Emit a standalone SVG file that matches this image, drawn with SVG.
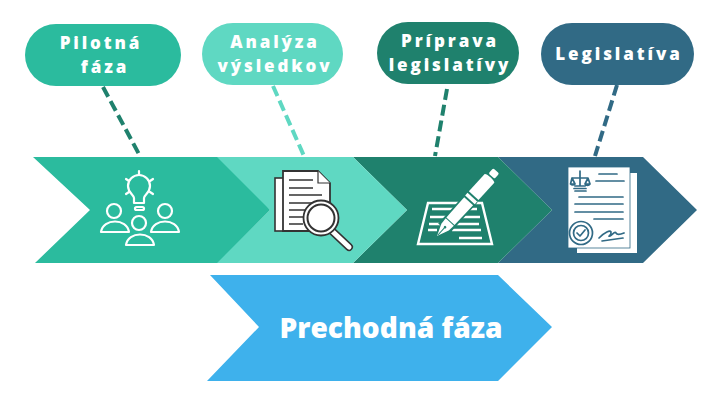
<svg xmlns="http://www.w3.org/2000/svg" width="726" height="405" viewBox="0 0 726 405">
<style>
.lbl{font-family:"Open Sans","Noto Sans",sans-serif;font-weight:800;font-size:17px;letter-spacing:2.9px;fill:#fff;text-anchor:middle}
.big{font-family:"Open Sans","Noto Sans",sans-serif;font-weight:800;font-size:28px;fill:#fff;text-anchor:middle}
.dash{fill:none;stroke-width:4;stroke-dasharray:11 5}
.w{fill:none;stroke:#fff;stroke-width:2.2;stroke-linecap:round;stroke-linejoin:round}
.k{fill:none;stroke:#333;stroke-width:1.6}
.bl{stroke:#316a85;stroke-width:1.7;fill:none;stroke-linecap:round;stroke-linejoin:round}
</style>
<rect width="726" height="405" fill="#fff"/>
<g id="connectors">
<line class="dash" x1="103" y1="87" x2="140" y2="156" stroke="#1f816d"/>
<line class="dash" x1="273" y1="86" x2="304" y2="156" stroke="#5fd8c2"/>
<line class="dash" x1="447" y1="89" x2="435" y2="156" stroke="#1f816d"/>
<line class="dash" x1="617" y1="85" x2="595" y2="156" stroke="#316a85"/>
</g>
<g id="chevron-4"><polygon points="498,157 643,157 697,210 643,263 498,263 552,210" fill="#316a85"/></g>
<g id="chevron-3"><polygon points="353,157 498,157 552,210 498,263 353,263 407,210" fill="#1f816d"/></g>
<g id="chevron-2"><polygon points="203,157 353,157 407,210 353,263 216,263 270,210" fill="#5fd8c2"/></g>
<g id="chevron-1"><polygon points="33,157 217,157 270,210 217,263 35,263 90,210" fill="#2bbb9e"/></g>
<g id="phase"><polygon points="210,275 498,275 552,327 498,381 207,381 259,327" fill="#3eb1ec"/>
<text class="big" x="391" y="338" textLength="223" lengthAdjust="spacingAndGlyphs">Prechodná fáza</text></g>
<g id="pill-1"><rect x="25" y="24" width="156" height="62" rx="31" fill="#2bbb9e"/>
<text class="lbl" x="101" y="49">Pilotná</text><text class="lbl" x="105" y="73">fáza</text></g>
<g id="pill-2"><rect x="202" y="23" width="141" height="62" rx="31" fill="#5fd8c2"/>
<text class="lbl" x="275" y="48">Analýza</text><text class="lbl" x="275" y="72">výsledkov</text></g>
<g id="pill-3"><rect x="377" y="22" width="142" height="62" rx="31" fill="#1f816d"/>
<text class="lbl" x="450" y="47">Príprava</text><text class="lbl" x="450" y="71">legislatívy</text></g>
<g id="pill-4"><rect x="541" y="23" width="153" height="62" rx="31" fill="#316a85"/>
<text class="lbl" x="619" y="60">Legislatíva</text></g>
<g id="icon-idea">
<path class="w" d="M134 203V198C134 195 128 193 128 186A11 11 0 1 1 150 186C150 193 144 195 144 198V203Z"/>
<rect class="w" x="135" y="207" width="9" height="3" rx="1.5"/>
<path class="w" d="M139 171V174M126 179L129 181M126 194L129 192M153 179L150 181M153 194L150 192"/>
<circle class="w" cx="114" cy="211" r="7"/><circle class="w" cx="165" cy="211" r="7"/><circle class="w" cx="139" cy="223" r="7"/>
<path class="w" d="M101 232C103 218 127 218 129 232Z"/>
<path class="w" d="M151 232C153 218 177 218 179 232Z"/>
<path class="w" d="M126 245C128 231 152 231 154 245Z"/>
</g>
<g id="icon-search">
<rect x="275" y="178" width="12" height="53" fill="#fff" stroke="#333" stroke-width="1.6"/>
<path d="M283 171H318L330 183V231H283Z" fill="#fff" stroke="#333" stroke-width="1.8"/>
<path d="M318 171V183H330" fill="#fff" stroke="#333" stroke-width="1.2"/>
<path class="k" d="M289 180H313M289 188H313M289 195H322M289 203H322M289 210H310M289 217H305M289 224H303"/>
<path d="M332 231L349 247" stroke="#333" stroke-width="8" stroke-linecap="round"/>
<path d="M332 231L349 247" stroke="#fff" stroke-width="5" stroke-linecap="round"/>
<circle cx="321" cy="218" r="17.5" fill="#fff" stroke="#333" stroke-width="1.8"/>
<circle cx="321" cy="218" r="13.5" fill="#fff" stroke="#333" stroke-width="2"/>
</g>
<g id="icon-pen">
<path d="M428 203H482L492 244H418Z" fill="none" stroke="#fff" stroke-width="2.4"/>
<path d="M432 209H454M465 209H477M430 217H448M461 217H480M429 224H442M453 224H479M428 230H437M452 230H481M459 238H482" stroke="#fff" stroke-width="2.4" fill="none"/>
<g transform="translate(437 236) rotate(-47.7)">
<rect x="10" y="-7.5" width="42" height="15" fill="#1f816d"/>
<path d="M0 0L12 -5L19 -5.5V5.5L12 5Z" fill="#fff"/>
<path d="M1 0H12" stroke="#1f816d" stroke-width="1"/>
<circle cx="12" cy="0" r="1.3" fill="#1f816d"/>
<path d="M20 -5.5L47 -6V6L20 5.5Z" fill="#fff"/>
<rect x="49" y="-6.5" width="3.5" height="13" fill="#fff"/>
<path d="M54.5 -6.5H78C80 -5 80 5 78 6.500H54.500Z" fill="#fff"/>
<rect x="81" y="-4" width="7" height="8" rx="1.500" fill="#fff"/>
</g>
</g>
<g id="icon-legal">
<rect x="577" y="173" width="60" height="80" fill="#fff"/>
<rect x="568" y="167" width="62" height="81" fill="#fff" stroke="#316a85" stroke-width="0.8"/>
<path class="bl" d="M599 174H617M596 181H624M575 191H586M579 197H623M575 204H623M575 212H623M594 219H623"/>
<path class="bl" d="M572 178H588M580 171V186M575 186H585M574 188.500H586M572 178L570.500 184H575ZM588 178L585 184H590ZM570.500 184A3 3 0 0 0 575 184M585 184A3 3 0 0 0 590 184"/>
<circle class="bl" cx="581" cy="233" r="11.500"/><circle class="bl" cx="581" cy="233" r="7.500"/>
<path class="bl" d="M577 233L580 236L585 230"/>
<path class="bl" d="M599 238C605 232 610 230 611 232C612 235 607 237 610 236C613 234 615 231 616 233C617 235 619 235 624 233M602 241L623 238"/>
</g>
</svg>
